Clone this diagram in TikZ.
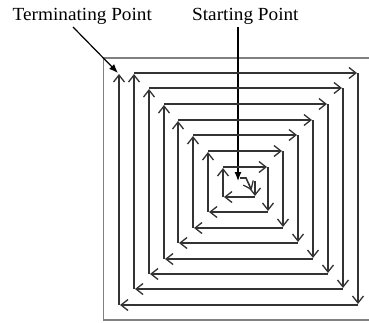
\documentclass[tikz,border=0pt]{standalone}
\usepackage{fontspec}
\setmainfont{Liberation Serif}
\usetikzlibrary{arrows.meta}
\begin{document}
\begin{tikzpicture}[x=1pt,y=-1pt,
  sp/.style={draw=black!80,line width=1.6pt,line cap=butt,
    -{Straight Barb[length=7pt,width=11pt,line width=1.3pt]},shorten >=1pt},
  lbl/.style={inner sep=0pt,anchor=base west,font=\fontsize{18.5}{20}\selectfont},
  callout/.style={draw=black,line width=1.2pt,-{Latex[length=9pt,width=7pt]}}]
\useasboundingbox (0,0) rectangle (369,322);
% frame
\draw[black!50,line width=1.2pt] (103.5,58) rectangle (380,320);
% labels
\node[lbl] (term) at (12.5,20) {\scalebox{1.04}[1]{Terminating Point}};
\node[lbl] (start) at (192,20) {\scalebox{1.04}[1]{Starting Point}};
\coordinate (termfrom) at (73,27);
\coordinate (termto) at (118,73);
\coordinate (startfrom) at (238,27);
\coordinate (startto) at (238,181);
\draw[callout] (termfrom) -- (termto);
\draw[callout] (startfrom) -- (startto);
% centre
\draw[sp] (240,178) -- (246,178) -- (252,191);
\draw[sp] (255,181) -- (255,197);
% spiral: down segments
\foreach \k in {1,...,7}{
  \draw[sp] ({round(253+15*\k)},{round(166.5-15.6*(\k-1))}) -- ({round(253+15*\k)},{round(197+15.4*\k)});
}
% left segments
\draw[sp] (255,197) -- (223,197);
\foreach \k in {1,...,7}{
  \draw[sp] ({round(253+15*\k)},{round(197+15.4*\k)}) -- ({round(223-14.857*\k)},{round(197+15.4*\k)});
}
% up segments
\foreach \k in {0,...,6}{
  \draw[sp] ({round(223-14.857*\k)},{round(197+15.4*\k)}) -- ({round(223-14.857*\k)},{round(166.5-15.6*\k)});
}
\draw[sp] (119,305) -- (119,73);
% right segments
\foreach \k in {0,...,6}{
  \draw[sp] ({round(223-14.857*\k)},{round(166.5-15.6*\k)}) -- ({round(253+15*(\k+1))},{round(166.5-15.6*\k)});
}
\end{tikzpicture}
\end{document}
